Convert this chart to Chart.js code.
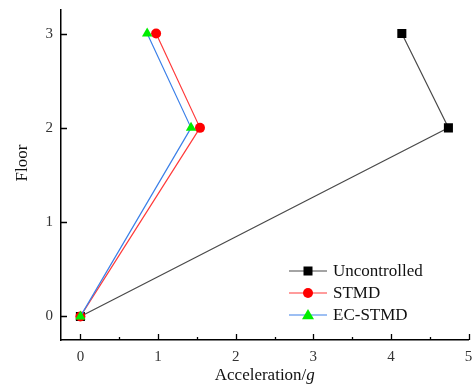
<!DOCTYPE html>
<html>
<head>
<meta charset="utf-8">
<script src="https://cdn.jsdelivr.net/npm/chart.js@4"></script>
<style>
  html, body { margin: 0; padding: 0; background: #fff; }
  #wrap { width: 475px; height: 388px; }
</style>
</head>
<body>
<div id="wrap"><canvas id="floorChart" width="475" height="388"></canvas></div>
<script>
// Peak floor acceleration per floor
const floors = [0, 2, 3];
const uncontrolled = [0, 4.74, 4.14];
const stmd = [0, 1.54, 0.975];
const ecStmd = [0, 1.425, 0.86];

const xTicks = [0, 1, 2, 3, 4, 5];
const yTicks = [0, 1, 2, 3];
const xMinor = [0.5, 1.5, 2.5, 3.5, 4.5];

const FONT = '"Liberation Serif", "Times New Roman", serif';

function pts(xs) {
    return xs.map((x, i) => ({ x: x, y: floors[i] }));
}

// r is the chart.js point radius, lr the legend marker half size
const seriesList = [
    { label: 'Uncontrolled', data: uncontrolled, line: '#4a4a4a', fill: '#000000', shape: 'rect', r: 6.4, lr: 4.5, order: 3 },
    { label: 'STMD', data: stmd, line: '#ff3b3b', fill: '#ff0000', shape: 'circle', r: 5, lr: 5, order: 2 },
    { label: 'EC-STMD', data: ecStmd, line: '#3c80e8', fill: '#00ee00', shape: 'triangle', r: 6, lr: 6, order: 1 }
];

// inward ticks, axis titles and the legend box
const decorations = {
    id: 'decorations',
    afterDraw(chart) {
        const { ctx, chartArea, scales } = chart;
        const xs = scales.x, ys = scales.y;
        ctx.save();
        ctx.strokeStyle = '#000';
        ctx.lineWidth = 1.3;
        ctx.beginPath();
        xTicks.forEach(v => {
            const px = Math.round(xs.getPixelForValue(v)) + 0.5;
            ctx.moveTo(px, chartArea.bottom);
            ctx.lineTo(px, chartArea.bottom - 6);
        });
        xMinor.forEach(v => {
            const px = Math.round(xs.getPixelForValue(v)) + 0.5;
            ctx.moveTo(px, chartArea.bottom);
            ctx.lineTo(px, chartArea.bottom - 3);
        });
        yTicks.forEach(v => {
            const py = Math.round(ys.getPixelForValue(v)) + 0.5;
            ctx.moveTo(chartArea.left, py);
            ctx.lineTo(chartArea.left + 6, py);
        });
        ctx.stroke();

        // axis titles
        ctx.fillStyle = '#111';
        ctx.textBaseline = 'middle';
        const t1 = 'Acceleration/';
        ctx.font = '17px ' + FONT;
        const w1 = ctx.measureText(t1).width;
        ctx.font = 'italic 17px ' + FONT;
        const w2 = ctx.measureText('g').width;
        let sx = (chartArea.left + chartArea.right) / 2 - (w1 + w2) / 2;
        ctx.textAlign = 'left';
        ctx.font = '17px ' + FONT;
        ctx.fillText(t1, sx, 376);
        ctx.font = 'italic 17px ' + FONT;
        ctx.fillText('g', sx + w1, 376);

        ctx.save();
        ctx.translate(23, 163);
        ctx.rotate(-Math.PI / 2);
        ctx.textAlign = 'center';
        ctx.font = '17px ' + FONT;
        ctx.fillText('Floor', 0, 0);
        ctx.restore();

        // legend
        const rowY = [271, 293, 315];
        seriesList.forEach((s, i) => {
            const y = rowY[i];
            ctx.strokeStyle = s.line;
            ctx.lineWidth = 1.2;
            ctx.beginPath();
            ctx.moveTo(289, y);
            ctx.lineTo(327, y);
            ctx.stroke();
            ctx.fillStyle = s.fill;
            ctx.beginPath();
            if (s.shape === 'rect') {
                ctx.fillRect(308 - s.lr, y - s.lr, s.lr * 2, s.lr * 2);
            } else if (s.shape === 'circle') {
                ctx.arc(308, y, s.lr, 0, Math.PI * 2);
                ctx.fill();
            } else {
                ctx.moveTo(308, y - s.lr);
                ctx.lineTo(308 + s.lr, y + s.lr * 0.7);
                ctx.lineTo(308 - s.lr, y + s.lr * 0.7);
                ctx.closePath();
                ctx.fill();
            }
            ctx.fillStyle = '#111';
            ctx.font = '17px ' + FONT;
            ctx.textAlign = 'left';
            ctx.textBaseline = 'middle';
            ctx.fillText(s.label, 333, y + 1);
        });
        ctx.restore();
    }
};

const ctx = document.getElementById('floorChart').getContext('2d');
const floorChart = new Chart(ctx, {
    type: 'line',
    data: {
        datasets: seriesList.map(s => ({
            label: s.label,
            data: pts(s.data),
            borderColor: s.line,
            borderWidth: 1.2,
            backgroundColor: s.fill,
            pointBackgroundColor: s.fill,
            pointBorderWidth: 0,
            pointStyle: s.shape,
            pointRadius: s.r,
            pointHoverRadius: s.r,
            tension: 0,
            order: s.order
        }))
    },
    options: {
        responsive: false,
        animation: false,
        layout: { padding: { top: 10, right: -4, left: 0, bottom: 0 } },
        plugins: {
            legend: { display: false },
            tooltip: { enabled: false }
        },
        scales: {
            x: {
                type: 'linear',
                min: -0.25,
                max: 5,
                afterBuildTicks: axis => { axis.ticks = xTicks.map(v => ({ value: v })); },
                afterFit: axis => { axis.height = 48; axis.paddingRight = 0; axis.paddingLeft = 0; },
                grid: { display: false, drawTicks: false },
                border: { display: true, color: '#000', width: 1.5 },
                ticks: { color: '#333', padding: 8, font: { family: FONT, size: 15 } }
            },
            y: {
                type: 'linear',
                min: -0.25,
                max: 3.25,
                afterBuildTicks: axis => { axis.ticks = yTicks.map(v => ({ value: v })); },
                afterFit: axis => { axis.width = 61; axis.paddingTop = 0; axis.paddingBottom = 0; },
                grid: { display: false, drawTicks: false },
                border: { display: true, color: '#000', width: 1.5 },
                ticks: { color: '#333', padding: 8, font: { family: FONT, size: 15 } }
            }
        }
    },
    plugins: [decorations]
});
</script>
</body>
</html>
